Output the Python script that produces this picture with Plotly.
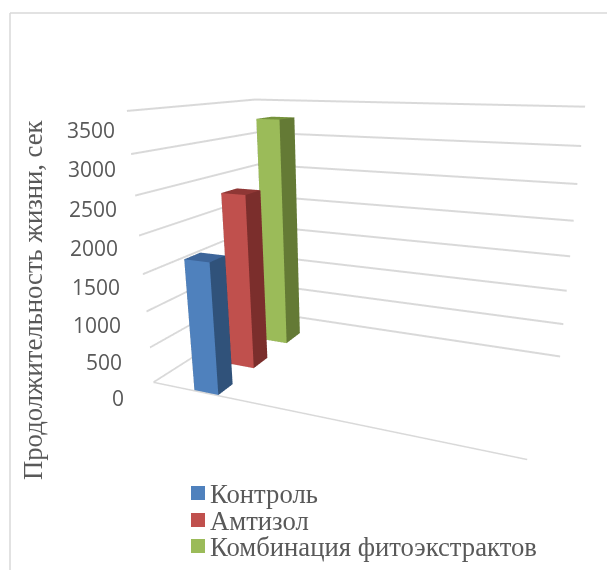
import plotly.graph_objects as go

series_names = ["Контроль", "Амтизол", "Комбинация фитоэкстрактов"]
series_values = [1760, 2425, 3300]
value_ticks = [0, 500, 1000, 1500, 2000, 2500, 3000, 3500]
axis_title = "Продолжительность жизни, сек"

FRONT = ["#4F81BD", "#C0504D", "#9BBB59"]
SIDE = ["#30527A", "#7B2E2C", "#647A35"]
TOP = ["#3D659A", "#8F3735", "#76933C"]

W, H = 607, 570
PPX = 353.0
tick_right_px = [126, 124, 123, 122, 120, 119, 118, 117]
tick_mid_px = [398, 362, 325, 287, 248, 209, 169, 130]
legend_top_px = [486, 513, 539]
X0, X1 = 0.1308, 0.2052
DEPTHS = [(0.005, 0.12), (0.3053, 0.4352), (0.636, 0.7862)]

fig = go.Figure()
for i, name in enumerate(series_names):
    y0, y1 = DEPTHS[i]
    h = series_values[i]
    xs = [X0, X1, X1, X0, X0, X1, X1, X0]
    ys = [y0, y0, y1, y1, y0, y0, y1, y1]
    zs = [0, 0, 0, 0, h, h, h, h]
    tri = [(0, 1, 5, FRONT[i]), (0, 5, 4, FRONT[i]), (1, 2, 6, SIDE[i]), (1, 6, 5, SIDE[i]),
           (4, 5, 6, TOP[i]), (4, 6, 7, TOP[i]), (0, 1, 2, SIDE[i]), (0, 2, 3, SIDE[i]),
           (3, 2, 6, SIDE[i]), (3, 6, 7, SIDE[i]), (0, 3, 7, SIDE[i]), (0, 7, 4, SIDE[i])]
    fig.add_trace(go.Mesh3d(x=xs, y=ys, z=zs, i=[a[0] for a in tri], j=[a[1] for a in tri], k=[a[2] for a in tri],
                            facecolor=[a[3] for a in tri], flatshading=True, name=name, hoverinfo="name",
                            lighting=dict(ambient=1, diffuse=0, specular=0, fresnel=0, roughness=1)))
fig.add_trace(go.Scatter3d(x=[0, 1], y=[0, 0], z=[0, 0], mode="lines", line=dict(color="#D9D9D9", width=3),
                           hoverinfo="skip", showlegend=False))

hidden = dict(showgrid=False, zeroline=False, showline=False, showticklabels=False, showbackground=False,
              showspikes=False, ticks="", title=dict(text=""), range=[0, 1])
fig.update_layout(
    width=W, height=H, margin=dict(l=0, r=0, t=0, b=0), paper_bgcolor="white", showlegend=False,
    scene=dict(
        domain=dict(x=[(2 * PPX - W) / W, 1], y=[0, 1]),
        xaxis=hidden, yaxis=hidden,
        zaxis=dict(hidden, showgrid=True, gridcolor="#D9D9D9", gridwidth=4, range=[0, 3501], tickvals=value_ticks),
        aspectmode="manual", aspectratio=dict(x=1, y=0.6034, z=0.7165),
        camera=dict(eye=dict(x=0.653, y=-1.663, z=0.465),
                    center=dict(x=0.0023, y=-0.0969, z=-0.0794),
                    up=dict(x=0, y=0, z=1), projection=dict(type="perspective"))),
)
shapes = [dict(type="line", xref="paper", yref="paper", x0=10 / W, x1=1, y0=1 - 13 / H, y1=1 - 13 / H, line=dict(color="#D9D9D9", width=1.5)),
          dict(type="line", xref="paper", yref="paper", x0=10 / W, x1=10 / W, y0=0, y1=1 - 13 / H, line=dict(color="#D9D9D9", width=1.5))]
anns = [dict(xref="paper", yref="paper", x=33 / W, y=1 - 300 / H, text=axis_title, textangle=-90, showarrow=False,
             xanchor="center", yanchor="middle", font=dict(family="Liberation Serif", size=26.7, color="#595959"))]
for v, rx, my in zip(value_ticks, tick_right_px, tick_mid_px):
    anns.append(dict(xref="paper", yref="paper", x=rx / W, y=1 - my / H, text=str(v), showarrow=False, xanchor="right",
                     yanchor="middle", font=dict(family="Open Sans", size=21, color="#595959")))
for i, (name, top_px) in enumerate(zip(series_names, legend_top_px)):
    shapes.append(dict(type="rect", xref="paper", yref="paper", x0=191 / W, x1=205 / W, y0=1 - top_px / H, y1=1 - (top_px + 14) / H,
                       fillcolor=FRONT[i], line=dict(width=0)))
    anns.append(dict(xref="paper", yref="paper", x=208 / W, y=1 - (top_px + 8) / H, text=name, showarrow=False, xanchor="left",
                     yanchor="middle", font=dict(family="Liberation Serif", size=26.7, color="#595959")))
fig.update_layout(shapes=shapes, annotations=anns)
fig.write_html("out.html", config=dict(displayModeBar=False),
               post_script="document.body.style.margin='0';document.documentElement.style.overflow='hidden';")
